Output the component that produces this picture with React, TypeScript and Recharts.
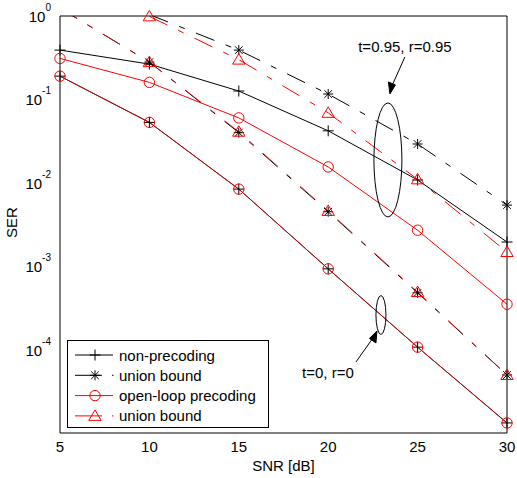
import React from 'react';
import { LineChart, Line, XAxis, YAxis, Legend, ReferenceDot } from 'recharts';

const FONT = '"Liberation Sans", Arial, Helvetica, sans-serif';

// SNR [dB]
const snr = [5, 10, 15, 20, 25, 30];

// t=0.95, r=0.95 group
const nonPre95 = [0.39, 0.265, 0.126, 0.042, 0.0108, 0.00195];
const union95Black = [null, 1.04, 0.39, 0.116, 0.0292, 0.0054];
const openLoop95 = [0.31, 0.16, 0.06, 0.0155, 0.0027, 0.00035];
const union95Red = [null, 0.99, 0.3, 0.069, 0.011, 0.00148];

// t=0, r=0 group
const nonPre0 = [0.19, 0.053, 0.0084, 0.00093, 0.000107, 1.32e-5];
const union0Black = [1.24, 0.28, 0.04, 0.0045, 0.00048, 4.96e-5];
const openLoop0 = [0.19, 0.053, 0.0084, 0.00093, 0.000107, 1.32e-5];
const union0Red = [1.24, 0.28, 0.041, 0.0046, 0.00049, 4.96e-5];

const xTicks = [5, 10, 15, 20, 25, 30];
const yMajorTicks = [1e-4, 1e-3, 1e-2, 1e-1, 1];
const yAllTicks: number[] = [];
[-5, -4, -3, -2, -1].forEach((e) => {
  for (let m = 1; m <= 9; m++) yAllTicks.push(m * Math.pow(10, e));
});
yAllTicks.push(1);

const legendLabels = ['non-precoding', 'union bound', 'open-loop precoding', 'union bound'];
const legendColors = ['#000', '#000', '#ff0000', '#ff0000'];
const legendMarkers = ['plus', 'star', 'circle', 'triangle'];
const legendDashed = [false, true, false, true];

const annotations = [
  { x: 23.34, y: 0.0188, rx: 14, ry: 57, text: 't=0.95, r=0.95' },
  { x: 22.95, y: 2.6e-4, rx: 5, ry: 19.5, text: 't=0, r=0' },
];

const data = snr.map((s, i) => ({
  snr: s,
  nonPre95: nonPre95[i],
  union95Black: union95Black[i],
  openLoop95: openLoop95[i],
  union95Red: union95Red[i],
  nonPre0: nonPre0[i],
  union0Black: union0Black[i],
  openLoop0: openLoop0[i],
  union0Red: union0Red[i],
}));

const DASH = '20 12 6 12';

function Marker({ kind, cx, cy, color }: { kind: string; cx: number; cy: number; color: string }) {
  if (kind === 'plus') {
    return (
      <path d={`M${cx - 5.5},${cy}H${cx + 5.5}M${cx},${cy - 5.5}V${cy + 5.5}`} stroke={color} strokeWidth={1} fill="none" />
    );
  }
  if (kind === 'star') {
    const d = 3.8;
    return (
      <path
        d={`M${cx - 5},${cy}H${cx + 5}M${cx},${cy - 5}V${cy + 5}M${cx - d},${cy - d}L${cx + d},${cy + d}M${cx - d},${cy + d}L${cx + d},${cy - d}`}
        stroke={color}
        strokeWidth={1}
        fill="none"
      />
    );
  }
  if (kind === 'circle') {
    return <circle cx={cx} cy={cy} r={5.2} stroke={color} strokeWidth={1} fill="none" />;
  }
  return (
    <path d={`M${cx},${cy - 6}L${cx + 6.2},${cy + 4.5}L${cx - 6.2},${cy + 4.5}Z`} stroke={color} strokeWidth={1} fill="none" />
  );
}

const makeDot = (kind: string, color: string) => (props: any) => {
  const { cx, cy, value, index } = props;
  if (cx == null || cy == null || value == null || value > 1.0001 || isNaN(cy)) {
    return <g key={`d-${kind}-${index}`} />;
  }
  return (
    <g key={`d-${kind}-${index}`}>
      <Marker kind={kind} cx={cx} cy={cy} color={color} />
    </g>
  );
};

const YTick = (props: any) => {
  const { x, y, payload } = props;
  const exp = Math.round(Math.log10(payload.value));
  return (
    <text x={x - 9} y={y + 6} textAnchor="end" fontFamily={FONT} fontSize={15} fill="#000">
      <tspan>10</tspan>
      <tspan dy={-11} fontSize={10}>
        {String(exp)}
      </tspan>
    </text>
  );
};

const XTick = (props: any) => {
  const { x, y, payload } = props;
  return (
    <text x={x} y={y + 19} textAnchor="middle" fontFamily={FONT} fontSize={15} fill="#000">
      {payload.value}
    </text>
  );
};

const LegendBox = () => (
  <svg width={203} height={89} style={{ display: 'block' }}>
    <rect x={0.5} y={0.5} width={201} height={87} fill="#fff" stroke="#000" strokeWidth={1} />
    {legendLabels.map((label, i) => {
      const cy = 15 + i * 20.3;
      return (
        <g key={i}>
          {legendDashed[i] ? (
            <g>
              <line x1={8} y1={cy} x2={35} y2={cy} stroke={legendColors[i]} strokeWidth={1} />
              <line x1={45} y1={cy} x2={46.5} y2={cy} stroke={legendColors[i]} strokeWidth={1} />
            </g>
          ) : (
            <line x1={8} y1={cy} x2={46} y2={cy} stroke={legendColors[i]} strokeWidth={1} />
          )}
          <Marker kind={legendMarkers[i]} cx={28} cy={cy} color={legendColors[i]} />
          <text x={52} y={cy + 5.5} fontFamily={FONT} fontSize={15} fill="#000">
            {label}
          </text>
        </g>
      );
    })}
  </svg>
);

const EllipseBig = (props: any) => {
  const { cx, cy } = props;
  const a = annotations[0];
  return (
    <g>
      <ellipse cx={cx} cy={cy} rx={a.rx} ry={a.ry} fill="none" stroke="#000" strokeWidth={1} />
      <line x1={cx + 17} y1={cy - 103} x2={cx + 4} y2={cy - 74} stroke="#000" strokeWidth={1} />
      <path d={`M${cx + 2},${cy - 66}L${cx + 0.5},${cy - 78}L${cx + 7.5},${cy - 75}Z`} fill="#000" stroke="#000" />
      <text x={cx + 17} y={cy - 108} textAnchor="middle" fontFamily={FONT} fontSize={15} fill="#000">
        {a.text}
      </text>
    </g>
  );
};

const EllipseSmall = (props: any) => {
  const { cx, cy } = props;
  const a = annotations[1];
  return (
    <g>
      <ellipse cx={cx} cy={cy} rx={a.rx} ry={a.ry} fill="none" stroke="#000" strokeWidth={1} />
      <line x1={cx - 25} y1={cy + 47} x2={cx - 8} y2={cy + 23} stroke="#000" strokeWidth={1} />
      <path d={`M${cx - 4},${cy + 16}L${cx - 5},${cy + 28}L${cx - 11.5},${cy + 23.5}Z`} fill="#000" stroke="#000" />
      <text x={cx - 53} y={cy + 63} textAnchor="middle" fontFamily={FONT} fontSize={15} fill="#000">
        {a.text}
      </text>
    </g>
  );
};

const XLabel = (props: any) => {
  const vb = props.viewBox || {};
  return (
    <text x={vb.x + vb.width / 2} y={vb.y + 38} textAnchor="middle" fontFamily={FONT} fontSize={15} fill="#000">
      SNR [dB]
    </text>
  );
};

const YLabel = (props: any) => {
  const vb = props.viewBox || {};
  const x = vb.x + 17;
  const y = vb.y + vb.height / 2 - 2;
  return (
    <text x={x} y={y} transform={`rotate(-90 ${x} ${y})`} textAnchor="middle" fontFamily={FONT} fontSize={15} fill="#000">
      SER
    </text>
  );
};

const yDomain: [number, number] = [1e-5, 1];

export default function App() {
  return (
    <div style={{ position: 'fixed', left: 0, top: 0, width: 517, height: 478, background: '#fff' }}>
      <LineChart width={517} height={478} data={data} margin={{ top: 16, right: 10, bottom: 0, left: 0 }}>
        <XAxis
          xAxisId="x"
          dataKey="snr"
          type="number"
          domain={[5, 30]}
          ticks={xTicks}
          interval={0}
          height={45}
          tickSize={0}
          tickMargin={0}
          tickLine={false}
          tick={<XTick />}
          axisLine={{ stroke: '#000', strokeWidth: 1 }}
          label={<XLabel />}
        />
        <XAxis
          xAxisId="xb"
          dataKey="snr"
          type="number"
          domain={[5, 30]}
          ticks={xTicks}
          interval={0}
          orientation="bottom"
          mirror
          tickSize={5}
          tick={false}
          tickLine={{ stroke: '#000', strokeWidth: 1 }}
          axisLine={false}
        />
        <XAxis
          xAxisId="xt"
          dataKey="snr"
          type="number"
          domain={[5, 30]}
          ticks={xTicks}
          interval={0}
          orientation="top"
          mirror
          tickSize={5}
          tick={false}
          tickLine={{ stroke: '#000', strokeWidth: 1 }}
          axisLine={{ stroke: '#000', strokeWidth: 1 }}
        />
        <YAxis
          yAxisId="y"
          scale="log"
          domain={yDomain}
          ticks={yMajorTicks}
          interval={0}
          width={60}
          tickSize={0}
          tickMargin={0}
          tickLine={false}
          tick={<YTick />}
          axisLine={{ stroke: '#000', strokeWidth: 1 }}
          label={<YLabel />}
        />
        <YAxis
          yAxisId="yc"
          scale="log"
          domain={yDomain}
          allowDataOverflow
          orientation="left"
          mirror
          hide
        />
        <YAxis
          yAxisId="yl"
          scale="log"
          domain={yDomain}
          allowDataOverflow
          ticks={yAllTicks}
          interval={0}
          orientation="left"
          mirror
          tickSize={4}
          tick={false}
          tickLine={{ stroke: '#000', strokeWidth: 1 }}
          axisLine={false}
        />
        <YAxis
          yAxisId="yr"
          scale="log"
          domain={yDomain}
          allowDataOverflow
          ticks={yAllTicks}
          interval={0}
          orientation="right"
          mirror
          tickSize={4}
          tick={false}
          tickLine={{ stroke: '#000', strokeWidth: 1 }}
          axisLine={{ stroke: '#000', strokeWidth: 1 }}
        />

        <Line xAxisId="x" yAxisId="y" type="linear" dataKey="nonPre95" stroke="#000" strokeWidth={1} dot={makeDot('plus', '#000')} activeDot={false} isAnimationActive={false} />
        <Line xAxisId="x" yAxisId="yc" type="linear" dataKey="union95Black" stroke="#000" strokeWidth={1} strokeDasharray={DASH} dot={makeDot('star', '#000')} activeDot={false} isAnimationActive={false} />
        <Line xAxisId="x" yAxisId="y" type="linear" dataKey="nonPre0" stroke="#000" strokeWidth={1} dot={makeDot('plus', '#000')} activeDot={false} isAnimationActive={false} />
        <Line xAxisId="x" yAxisId="yc" type="linear" dataKey="union0Black" stroke="#000" strokeWidth={1} strokeDasharray={DASH} dot={makeDot('star', '#000')} activeDot={false} isAnimationActive={false} />
        <Line xAxisId="x" yAxisId="y" type="linear" dataKey="openLoop95" stroke="#ff0000" strokeWidth={1} dot={makeDot('circle', '#ff0000')} activeDot={false} isAnimationActive={false} />
        <Line xAxisId="x" yAxisId="y" type="linear" dataKey="union95Red" stroke="#ff0000" strokeWidth={1} strokeDasharray={DASH} dot={makeDot('triangle', '#ff0000')} activeDot={false} isAnimationActive={false} />
        <Line xAxisId="x" yAxisId="y" type="linear" dataKey="openLoop0" stroke="#ff0000" strokeOpacity={0.75} strokeWidth={1} dot={makeDot('circle', '#ff0000')} activeDot={false} isAnimationActive={false} />
        <Line xAxisId="x" yAxisId="yc" type="linear" dataKey="union0Red" stroke="#ff0000" strokeOpacity={0.75} strokeWidth={1} strokeDasharray={DASH} dot={makeDot('triangle', '#ff0000')} activeDot={false} isAnimationActive={false} />

        <ReferenceDot xAxisId="x" yAxisId="y" x={annotations[0].x} y={annotations[0].y} shape={<EllipseBig />} />
        <ReferenceDot xAxisId="x" yAxisId="y" x={annotations[1].x} y={annotations[1].y} shape={<EllipseSmall />} />

        <Legend
          layout="horizontal"
          verticalAlign="middle"
          align="center"
          wrapperStyle={{ position: 'absolute', left: 67, top: 340, width: 203, height: 89 }}
          content={<LegendBox />}
        />
      </LineChart>
    </div>
  );
}
